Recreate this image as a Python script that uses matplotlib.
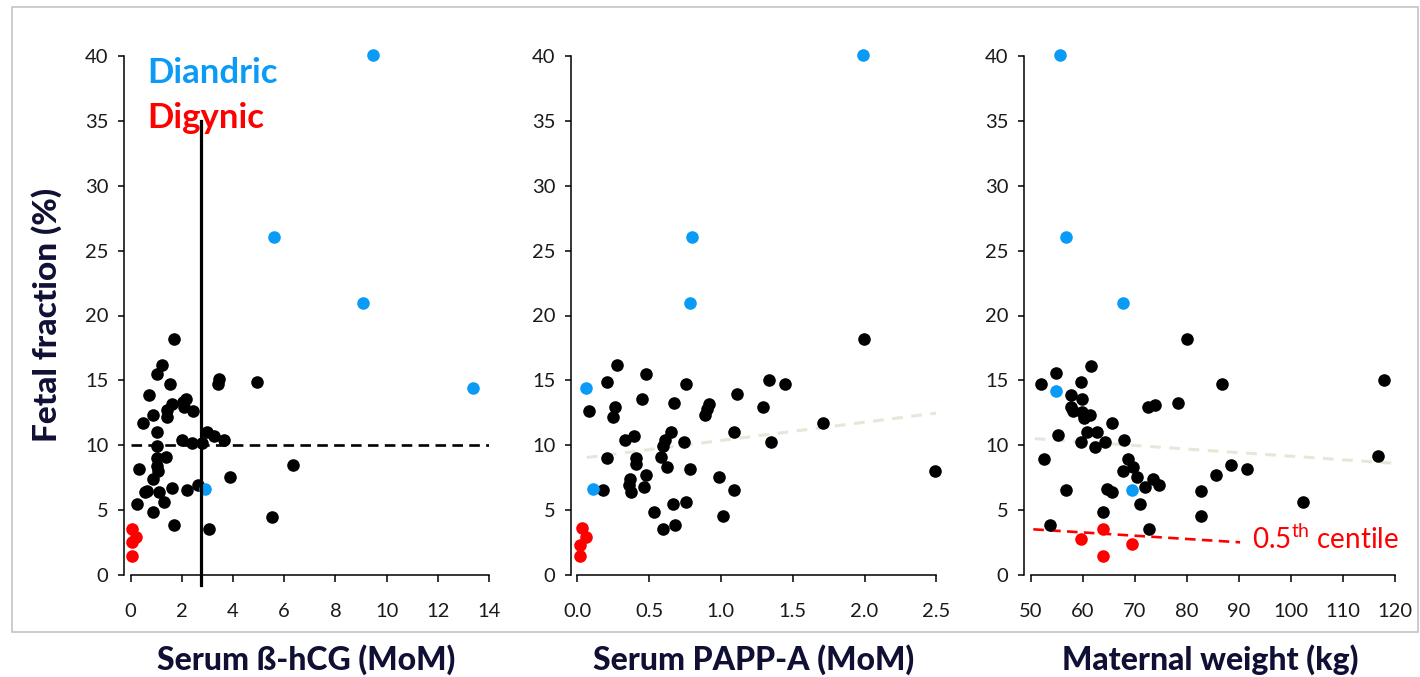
import numpy as np
import matplotlib
matplotlib.use("Agg")
import matplotlib.pyplot as plt
from matplotlib.patches import Rectangle

plt.rcParams['font.family'] = ['Lato', 'DejaVu Sans']
plt.rcParams['mathtext.fontset'] = 'custom'
plt.rcParams['mathtext.rm'] = 'Lato'

# ---- data ----
# fetal fraction (%) shared by the coloured groups
diandric_ff = [40.1, 26.06, 21.0, 14.4, 6.6]
digynic_ff = [3.6, 2.9, 2.5, 1.5]

# panel 1: serum beta-hCG (MoM)
hcg_black_x = [1.69, 1.24, 1.02, 1.54, 0.72, 2.15, 2.03, 1.60, 1.41, 2.10, 2.45, 0.86,
               1.41, 0.49, 1.03, 1.99, 2.38, 2.77, 2.97, 3.27, 3.66, 1.03, 3.45, 3.42,
               4.92, 1.02, 1.39, 1.02, 1.08, 0.89, 0.33, 3.88, 6.35, 0.63, 0.56, 1.09,
               1.63, 2.21, 2.64, 0.26, 1.32, 0.86, 1.69, 3.05, 5.53]
hcg_black_y = [18.2, 16.17, 15.5, 14.73, 13.9, 13.6, 13.34, 13.16, 12.7, 12.93, 12.65, 12.3,
               12.16, 11.7, 11.03, 10.41, 10.2, 10.2, 11.05, 10.75, 10.41, 9.95, 15.1, 14.7,
               14.9, 9.0, 9.07, 8.43, 8.05, 7.4, 8.17, 7.53, 8.5, 6.5, 6.43, 6.43,
               6.73, 6.58, 6.94, 5.48, 5.63, 4.83, 3.86, 3.55, 4.5]
hcg_diandric_x = [9.45, 5.61, 9.07, 13.39, 2.92]
hcg_digynic_x = [0.04, 0.2, 0.04, 0.04]
hcg_digynic_y = [3.57, 2.9, 2.57, 1.47]
hcg_cut_x = 2.75
ff_cut_y = 10

# panel 2: serum PAPP-A (MoM)
papp_black_x = [0.276, 0.476, 0.209, 0.757, 1.335, 1.444, 1.11, 0.45, 0.675, 0.919, 0.90, 0.891,
                1.295, 0.084, 0.262, 0.246, 1.711, 1.093, 0.65, 0.33, 0.397, 0.61, 0.599, 0.745,
                1.349, 0.207, 0.409, 0.583, 0.409, 0.624, 0.785, 0.476, 0.369, 0.989, 0.357, 0.464,
                0.371, 0.179, 1.093, 0.666, 0.759, 0.532, 1.012, 0.599, 0.678, 1.994, 2.49]
papp_black_y = [16.17, 15.5, 14.9, 14.73, 15.04, 14.73, 13.93, 13.6, 13.29, 13.16, 12.8, 12.34,
                12.98, 12.65, 12.98, 12.16, 11.7, 11.05, 11.05, 10.41, 10.75, 10.41, 9.97, 10.28,
                10.23, 9.0, 9.0, 9.13, 8.53, 8.35, 8.17, 7.71, 7.4, 7.53, 6.94, 6.76,
                6.38, 6.58, 6.58, 5.48, 5.63, 4.83, 4.52, 3.55, 3.86, 18.2, 8.02]
papp_diandric_x = [1.99, 0.80, 0.785, 0.058, 0.111]
papp_digynic_x = [0.032, 0.058, 0.019, 0.019]
papp_digynic_y = [3.62, 2.9, 2.31, 1.47]
papp_trend_x = [0.065, 2.53]
papp_trend_y = [9.05, 12.52]

# panel 3: maternal weight (kg)
wt_black_x = [80.1, 61.5, 54.9, 59.7, 51.9, 86.7, 117.9, 57.8, 59.8, 78.2, 72.6, 73.8,
              57.8, 58.2, 59.9, 61.3, 60.2, 65.7, 60.9, 62.7, 55.3, 59.7, 64.2, 67.85,
              62.3, 52.6, 68.6, 69.7, 116.6, 88.5, 91.5, 67.8, 70.4, 85.6, 73.4, 74.6,
              71.9, 56.8, 64.6, 65.7, 82.6, 70.9, 102.2, 63.8, 82.7, 53.8, 72.7]
wt_black_y = [18.2, 16.14, 15.53, 14.88, 14.73, 14.73, 15.04, 13.9, 13.6, 13.29, 12.96, 13.14,
              12.98, 12.65, 12.54, 12.31, 12.1, 11.7, 11.05, 11.05, 10.77, 10.23, 10.23, 10.41,
              9.9, 8.97, 8.97, 8.35, 9.18, 8.5, 8.15, 8.0, 7.56, 7.71, 7.38, 6.92,
              6.76, 6.58, 6.6, 6.4, 6.45, 5.5, 5.63, 4.83, 4.52, 3.86, 3.55]
wt_diandric_x = [55.6, 56.7, 67.7, 54.9, 69.5]
wt_diandric_y = [40.1, 26.06, 21.0, 14.2, 6.53]
wt_digynic_x = [63.9, 59.7, 69.4, 63.9]
wt_digynic_y = [3.55, 2.75, 2.42, 1.47]
wt_trend_x = [50.8, 119.8]
wt_trend_y = [10.51, 8.61]
centile_x = [50.5, 90.2]
centile_y = [3.52, 2.52]

x_titles = ['Serum ß-hCG (MoM)', 'Serum PAPP-A (MoM)', 'Maternal weight (kg)']
x_ticks = [np.arange(0, 15, 2), np.arange(0, 2.51, 0.5), np.arange(50, 121, 10)]
x_ticklabels = [[str(int(t)) for t in x_ticks[0]],
                ['%.1f' % t for t in x_ticks[1]],
                [str(int(t)) for t in x_ticks[2]]]
x_lims = [(-0.26, 14), (-0.044, 2.5), (48.77, 120)]
y_ticks = np.arange(0, 41, 5)

BLUE = '#0a9bf7'
RED = '#ff0000'
NAVY = '#101035'
BEIGE = '#e9e5d9'

fig = plt.figure(figsize=(14.2, 6.77), dpi=100)
W, H = 1420, 677

# grey frame behind the panels
fig.patches.append(Rectangle((12 / W, 1 - 632 / H), (1418 - 12) / W, (632 - 7) / H,
                             transform=fig.transFigure, fill=False,
                             edgecolor='#c4c4c4', lw=1.2))

ax_px = [(124, 489), (571, 936.3), (1024.3, 1395.3)]
axes = []
for i, (l, r) in enumerate(ax_px):
    ax = fig.add_axes([l / W, 1 - 575 / H, (r - l) / W, (575 - 56) / H])
    ax.set_xlim(*x_lims[i])
    ax.set_ylim(0, 40)
    ax.spines['top'].set_visible(False)
    ax.spines['right'].set_visible(False)
    ax.spines['bottom'].set_bounds(x_ticks[i][0], x_ticks[i][-1])
    for s in ('left', 'bottom'):
        ax.spines[s].set_linewidth(1.1)
    ax.set_xticks(x_ticks[i])
    ax.set_xticklabels(x_ticklabels[i])
    ax.set_yticks(y_ticks)
    ax.tick_params(axis='x', length=5, width=1.1, pad=15, labelsize=14.5, labelcolor='#1a1a1a')
    ax.tick_params(axis='y', length=4.3, width=1.1, pad=7, labelsize=14.5, labelcolor='#1a1a1a')
    fig.text((l + r) / 2 / W, 1 - 670 / H, x_titles[i], ha='center', va='baseline',
             fontsize=23, fontweight='black', color=NAVY)
    axes.append(ax)

dot = dict(s=82, linewidths=0, zorder=4, clip_on=False)

# panel 1
ax = axes[0]
ax.plot([0, 14], [ff_cut_y, ff_cut_y], ls=(0, (4, 2.4)), color='black', lw=1.9, zorder=2)
ax.plot([hcg_cut_x, hcg_cut_x], [-0.8, 35.0], color='black', lw=2.3, zorder=5, clip_on=False)
ax.scatter(hcg_black_x, hcg_black_y, color='black', **dot)
ax.scatter(hcg_diandric_x, diandric_ff, color=BLUE, **dot)
ax.scatter(hcg_digynic_x, hcg_digynic_y, color=RED, **dot)
ax.text(0.64, 37.9, 'Diandric', color=BLUE, fontsize=25, fontweight='bold', va='baseline')
ax.text(0.64, 34.45, 'Digynic', color=RED, fontsize=25, fontweight='bold', va='baseline')

# panel 2
ax = axes[1]
ax.plot(papp_trend_x, papp_trend_y, ls=(0, (3.5, 2.8)), color=BEIGE, lw=2.2, zorder=2)
ax.scatter(papp_black_x, papp_black_y, color='black', **dot)
ax.scatter(papp_diandric_x, diandric_ff, color=BLUE, **dot)
ax.scatter(papp_digynic_x, papp_digynic_y, color=RED, **dot)

# panel 3
ax = axes[2]
ax.plot(wt_trend_x, wt_trend_y, ls=(0, (3.5, 2.8)), color=BEIGE, lw=2.2, zorder=2)
ax.plot(centile_x, centile_y, ls=(0, (4, 2.4)), color=RED, lw=1.9, zorder=3)
ax.scatter(wt_black_x, wt_black_y, color='black', **dot)
ax.scatter(wt_diandric_x, wt_diandric_y, color=BLUE, **dot)
ax.scatter(wt_digynic_x, wt_digynic_y, color=RED, **dot)
ax.text(92.4, 2.0, r'0.5$^{\mathrm{th}}$ centile', color=RED, fontsize=20, va='baseline')

fig.text(47 / W, 1 - 315 / H, 'Fetal fraction (%)', rotation=90, ha='center', va='center',
         fontsize=24, fontweight='black', color=NAVY)

fig.savefig('out.png', dpi=100)
